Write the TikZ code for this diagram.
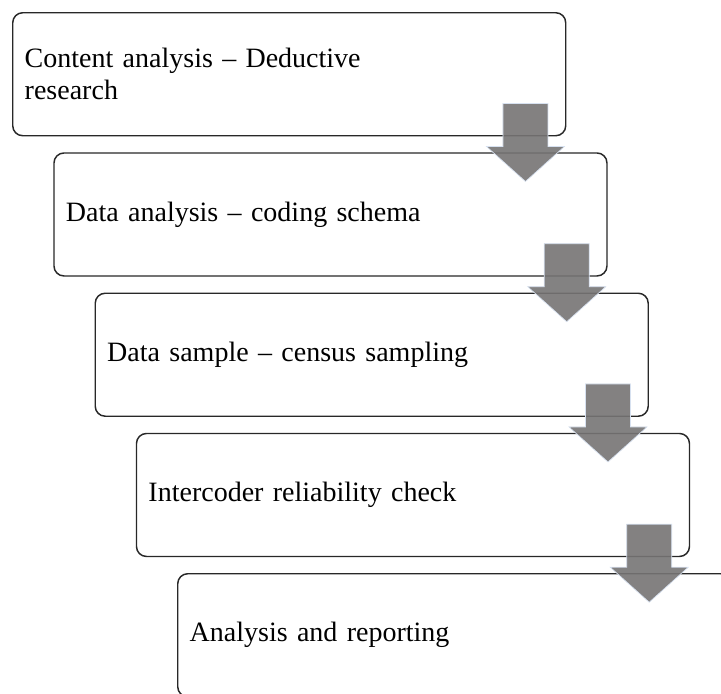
\documentclass[tikz,border=0pt]{standalone}
\usepackage{fontspec}
\setmainfont{Liberation Serif}
\begin{document}
\begin{tikzpicture}[x=0.75pt,y=-0.75pt,
  stepbox/.style={draw={rgb,255:red,40;green,40;blue,40}, line width=1.1pt, fill=white,
    rounded corners=7.5pt, minimum width=414.75pt, minimum height=92.25pt,
    text width=396.75pt, inner xsep=9pt, align=left, anchor=north west,
    font=\fontsize{21}{24}\selectfont},
  downarrow/.pic={
    \path[fill={rgb,255:red,118;green,116;blue,116}, fill opacity=0.9,
      draw={rgb,255:red,215;green,225;blue,240}, line width=0.5pt, line join=miter]
      (-22.5,-78) -- (22.5,-78) -- (22.5,-35) -- (39,-35) -- (0,0)
      -- (-39,-35) -- (-22.5,-35) -- cycle;
  }]
\useasboundingbox (0,0) rectangle (721,693);
\clip (0,0) rectangle (721,693);
\node[stepbox] (b1) at (12,12) {Content analysis -- Deductive\\research};
\node[stepbox] (b2) at (53.25,152.25) {Data analysis -- coding schema};
\node[stepbox] (b3) at (94.5,292.5) {Data sample -- census sampling};
\node[stepbox] (b4) at (135.75,432.75) {Intercoder reliability check};
\node[stepbox] (b5) at (177,573) {Analysis and reporting};
\pic at ([shift={(-41,45)}]b1.south east) {downarrow};
\pic at ([shift={(-41,45)}]b2.south east) {downarrow};
\pic at ([shift={(-41,45)}]b3.south east) {downarrow};
\pic at ([shift={(-41,45)}]b4.south east) {downarrow};
\end{tikzpicture}
\end{document}
